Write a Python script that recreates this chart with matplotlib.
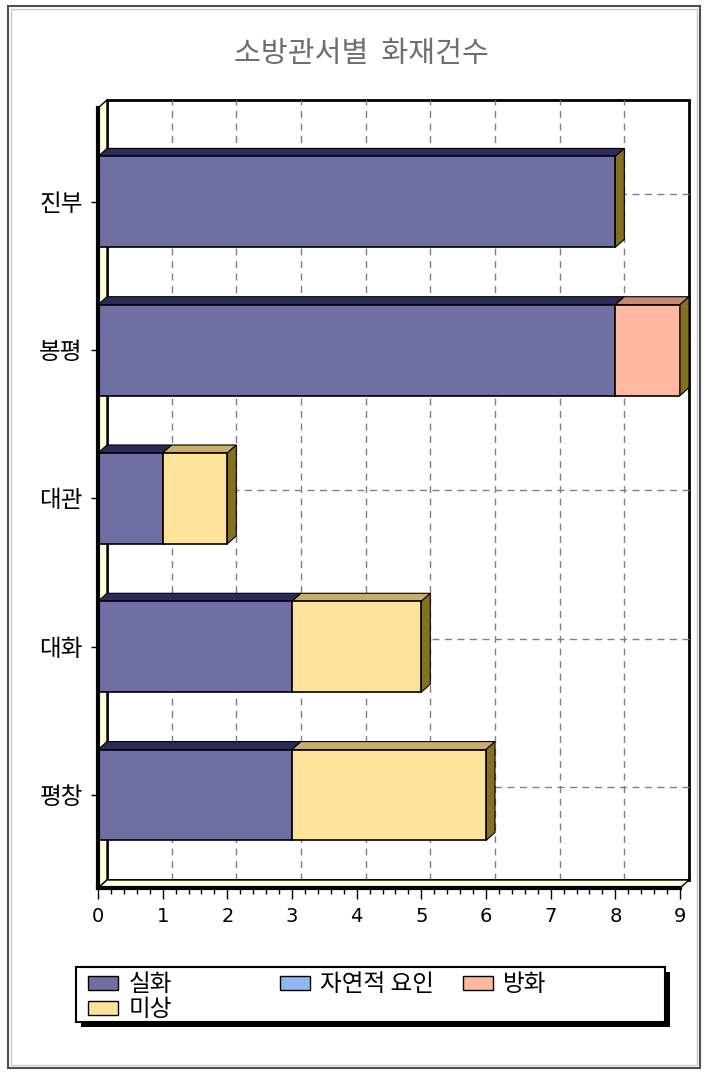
import matplotlib
matplotlib.use('Agg')
import matplotlib.pyplot as plt
import numpy as np
from matplotlib.patches import Polygon, Rectangle, Patch
from matplotlib.ticker import MultipleLocator

plt.rcParams['font.family'] = ['Noto Sans CJK KR', 'DejaVu Sans']

# data (bottom to top)
stations = ['평창', '대화', '대관', '봉평', '진부']
series = ['실화', '자연적 요인', '방화', '미상']
silhwa = [3, 3, 1, 8, 8]
natural = [0, 0, 0, 0, 0]
banghwa = [0, 0, 0, 1, 0]
misang = [3, 2, 1, 0, 0]
title = '소방관서별  화재건수'

front_colors = ['#6f6fa3', '#8fb7f2', '#ffb9a0', '#ffe39b']
top_colors = ['#2b2b5b', '#5f80b0', '#c9876c', '#c9ad6a']
SIDE_COLOR = '#85701f'
WALL_COLOR = '#ffffd8'
BAR_H = 0.613

W, H = 708, 1075
fig = plt.figure(figsize=(W / 100, H / 100), dpi=100)
ax = fig.add_axes([98 / W, 1 - 888 / H, 582 / W, 780 / H])
ylo, yhi = -0.627, 4.633
ax.set_xlim(0, 9)
ax.set_ylim(ylo, yhi)
ax.set_facecolor('none')

# depth of the fake 3d in data units (9 px right, 8 px up)
o = ax.transData.transform((0, 0))
ddx, ddy = ax.transData.inverted().transform(o + np.array([9, 8]))

# back wall, left wall, floor
ax.add_patch(Rectangle((ddx, ylo + ddy), 9, yhi - ylo, facecolor='white',
                       edgecolor='black', lw=2, zorder=0, clip_on=False))
ax.add_patch(Polygon([(0, ylo), (0, yhi), (ddx, yhi + ddy), (ddx, ylo + ddy)],
                     facecolor=WALL_COLOR, edgecolor='black', lw=1, zorder=1, clip_on=False))
ax.add_patch(Polygon([(0, ylo), (9, ylo), (9 + ddx, ylo + ddy), (ddx, ylo + ddy)],
                     facecolor=WALL_COLOR, edgecolor='black', lw=1, zorder=1, clip_on=False))

y = np.arange(len(stations))

# grid on the back wall
for v in range(1, 9):
    ax.plot([v + ddx, v + ddx], [ylo + ddy, yhi + ddy], color='#808080', lw=1,
            dashes=(5, 4), zorder=0.5, clip_on=False)
for yy in y:
    ax.plot([ddx, 9 + ddx], [yy + ddy, yy + ddy], color='#808080', lw=1,
            dashes=(5, 4), zorder=0.5, clip_on=False)

left = np.zeros(len(stations))
for vals, fc, tc in zip([silhwa, natural, banghwa, misang], front_colors, top_colors):
    vals = np.array(vals, dtype=float)
    m = vals > 0
    ax.barh(y[m], vals[m], BAR_H, left=left[m], color=fc, edgecolor='black',
            lw=1.2, zorder=3)
    for yy, l, v in zip(y[m], left[m], vals[m]):
        t = yy + BAR_H / 2
        ax.add_patch(Polygon([(l, t), (l + v, t), (l + v + ddx, t + ddy), (l + ddx, t + ddy)],
                             facecolor=tc, edgecolor='black', lw=0.8, zorder=2, clip_on=False))
    left = left + vals

for yy, e in zip(y, left):
    b, t = yy - BAR_H / 2, yy + BAR_H / 2
    ax.add_patch(Polygon([(e, b), (e + ddx, b + ddy), (e + ddx, t + ddy), (e, t)],
                         facecolor=SIDE_COLOR, edgecolor='black', lw=0.8, zorder=2, clip_on=False))

# axes
for s in ['top', 'right']:
    ax.spines[s].set_visible(False)
ax.spines['left'].set_linewidth(3)
ax.spines['bottom'].set_linewidth(3)
ax.spines['left'].set_zorder(4)
ax.spines['bottom'].set_zorder(4)
ax.set_xticks(range(10))
ax.xaxis.set_minor_locator(MultipleLocator(0.2))
ax.tick_params(axis='x', which='major', length=8, width=1, labelsize=14, pad=6)
ax.tick_params(axis='x', which='minor', length=4, width=1)
ax.set_yticks(y, stations)
ax.tick_params(axis='y', length=5, width=1, labelsize=17, pad=6)
for lab in ax.get_xticklabels():
    lab.set_family('DejaVu Sans')

fig.text(361 / W, 1 - 54 / H, title, ha='center', va='center', color='#6e6e6e', fontsize=21)

# outer frame
fig.patches.append(Rectangle((8 / W, 1 - 1068 / H), 692 / W, 1062 / H, transform=fig.transFigure,
                             fill=False, edgecolor='#505050', lw=1.5))
fig.patches.append(Rectangle((11 / W, 1 - 1065 / H), 686 / W, 1056 / H, transform=fig.transFigure,
                             fill=False, edgecolor='#c8c8c8', lw=1))

# legend box with shadow
fig.patches.append(Rectangle((81 / W, 1 - 1027 / H), 589 / W, 55 / H, transform=fig.transFigure,
                             facecolor='black', edgecolor='none'))
fig.patches.append(Rectangle((76 / W, 1 - 1022 / H), 589 / W, 55 / H, transform=fig.transFigure,
                             facecolor='white', edgecolor='black', lw=1.5))

handles = [Patch(facecolor=c, edgecolor='black', lw=1) for c in front_colors]
leg_kw = dict(loc='upper left', frameon=False, fontsize=17, handlelength=1.25, handleheight=0.55,
              handletextpad=0.45, labelspacing=0.1, borderpad=0, borderaxespad=0)
fig.legend([handles[0], handles[3]], [series[0], series[3]],
           bbox_to_anchor=(88 / W, 1 - 973 / H), **leg_kw)
fig.legend([handles[1]], [series[1]], bbox_to_anchor=(280 / W, 1 - 973 / H), **leg_kw)
fig.legend([handles[2]], [series[2]], bbox_to_anchor=(463 / W, 1 - 973 / H), **leg_kw)

fig.savefig('out.png', dpi=100)
